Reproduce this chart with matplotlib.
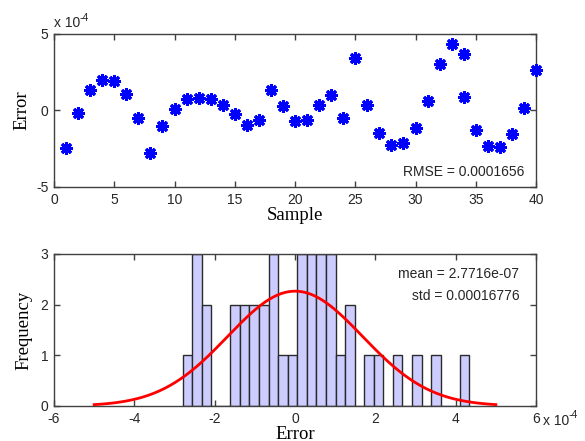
import numpy as np
import matplotlib
matplotlib.use("Agg")
import matplotlib.pyplot as plt

plt.rcParams["axes.unicode_minus"] = False

# ---- data (errors in units of 1e-4) ----
samples = [1, 2, 3, 4, 5, 6, 7, 8, 9, 10, 11, 12, 13, 14, 15, 16, 17, 18, 19, 20,
           21, 22, 23, 24, 25, 26, 27, 28, 29, 30, 31, 32, 33, 34, 34, 35, 36, 37, 38, 39, 40]
errors = [-2.48, -0.15, 1.37, 2.02, 1.91, 1.07, -0.48, -2.80, -1.02, 0.11,
          0.72, 0.80, 0.72, 0.33, -0.26, -0.96, -0.63, 1.37, 0.28, -0.70,
          -0.63, 0.33, 0.98, -0.48, 3.45, 0.39, -1.50, -2.26, -2.11, -1.13,
          0.61, 3.02, 4.34, 3.68, 0.89, -1.28, -2.33, -2.39, -1.52, 0.17, 2.63]
hist_counts = [1, 3, 2, 0, 0, 2, 2, 2, 2, 3, 1, 1, 3, 3, 3, 3, 1, 2, 0, 1,
               1, 0, 1, 0, 1, 0, 1, 0, 0, 1]
mean_e4 = 0.0027716
std_e4 = 1.6776
rmse_text = "RMSE = 0.0001656"
mean_text = "mean = 2.7716e-07"
std_text = "std = 0.00016776"
top_xticks = [0, 5, 10, 15, 20, 25, 30, 35, 40]
top_yticks = [-5, 0, 5]
bot_xticks = [-6, -4, -2, 0, 2, 4, 6]
bot_yticks = [0, 1, 2, 3]

sans = "Liberation Sans"
serif = "Liberation Serif"
tick_color = "#262626"
spine_color = "#404040"

fig = plt.figure(figsize=(5.85, 4.41), dpi=100)
fig.patch.set_facecolor("white")

def style(ax):
    for s in ax.spines.values():
        s.set_color(spine_color)
        s.set_linewidth(1.0)
    ax.tick_params(direction="in", top=True, right=True, length=4, width=1,
                   color=spine_color, labelcolor=tick_color, labelsize=10, pad=4)
    for lab in ax.get_xticklabels() + ax.get_yticklabels():
        lab.set_fontfamily(sans)

# ---- top: error scatter ----
ax1 = fig.add_axes([0.0923, 0.576, 0.824, 0.347])
ax1.plot(samples, errors, linestyle="none", marker=(8, 2, 0), markersize=9,
         markeredgewidth=2.2, color="#0000ff", clip_on=False, zorder=3)
ax1.set_xlim(0, 40)
ax1.set_ylim(-5, 5)
ax1.set_xticks(top_xticks)
ax1.set_yticks(top_yticks)
style(ax1)
ax1.set_xlabel("Sample", fontfamily=serif, fontsize=13.5, labelpad=0)
ax1.set_ylabel("Error", fontfamily=serif, fontsize=13.5, labelpad=4)
ax1.text(0.975, 0.1, rmse_text, transform=ax1.transAxes, ha="right", va="center",
         fontfamily=sans, fontsize=10, color=tick_color)
ax1.text(0.0, 1.025, "x 10", transform=ax1.transAxes, ha="left", va="bottom",
         fontfamily=sans, fontsize=10, color=tick_color)
ax1.text(0.052, 1.07, "-4", transform=ax1.transAxes, ha="left", va="bottom",
         fontfamily=sans, fontsize=7.5, color=tick_color)

# ---- bottom: histogram with normal fit ----
ax2 = fig.add_axes([0.0923, 0.0794, 0.824, 0.345])
emin, emax = min(errors), max(errors)
edges = np.linspace(emin, emax, len(hist_counts) + 1)
width = edges[1] - edges[0]
ax2.bar(edges[:-1], hist_counts, width=width, align="edge", color="#ccccff",
        edgecolor="#2a2a2a", linewidth=1.0, zorder=2)
xs = np.linspace(-5, 5, 300)
n_total = sum(hist_counts)
ys = n_total * width / (std_e4 * np.sqrt(2 * np.pi)) * np.exp(-(xs - mean_e4) ** 2 / (2 * std_e4 ** 2))
ax2.plot(xs, ys, color="red", linewidth=2, zorder=3)
ax2.set_xlim(-6, 6)
ax2.set_ylim(0, 3)
ax2.set_xticks(bot_xticks)
ax2.set_yticks(bot_yticks)
style(ax2)
ax2.set_xlabel("Error", fontfamily=serif, fontsize=13.5, labelpad=0)
ax2.set_ylabel("Frequency", fontfamily=serif, fontsize=13.5, labelpad=6)
ax2.text(0.965, 0.87, mean_text, transform=ax2.transAxes, ha="right", va="center",
         fontfamily=sans, fontsize=10, color=tick_color)
ax2.text(0.965, 0.72, std_text, transform=ax2.transAxes, ha="right", va="center",
         fontfamily=sans, fontsize=10, color=tick_color)
ax2.text(1.015, -0.1, "x 10", transform=ax2.transAxes, ha="left", va="center",
         fontfamily=sans, fontsize=10, color=tick_color)
ax2.text(1.067, -0.06, "-4", transform=ax2.transAxes, ha="left", va="center",
         fontfamily=sans, fontsize=7.5, color=tick_color)

fig.savefig("out.png", dpi=100, facecolor="white")
